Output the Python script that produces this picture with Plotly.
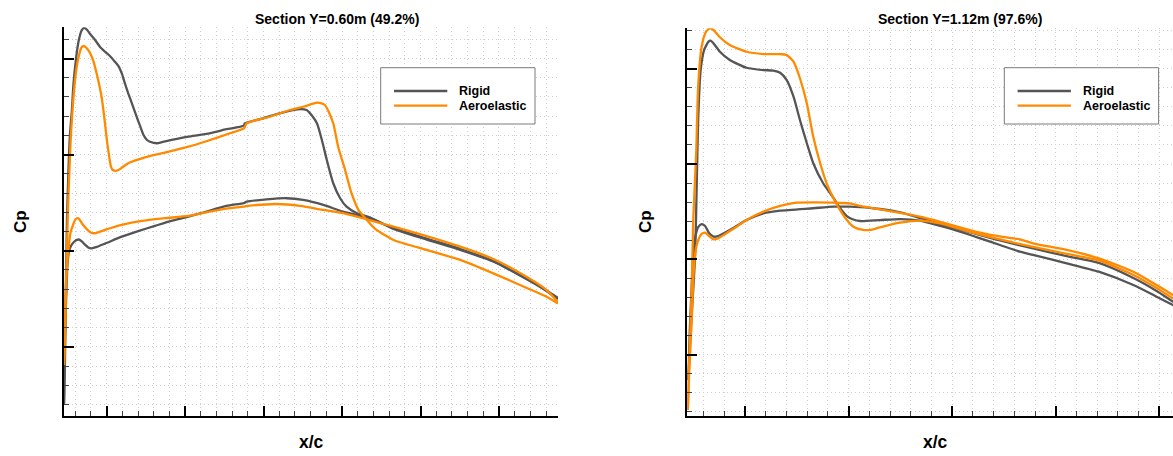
import plotly.graph_objects as go

W, H = 1173, 456

# ---- Section Y=0.60m : pressure coefficient along the chord ----
s1_rigid_up_x = [0.000, 0.002, 0.004, 0.006, 0.009, 0.012, 0.016, 0.019, 0.024, 0.030, 0.036, 0.041,
                 0.047, 0.053, 0.063, 0.073, 0.083, 0.093, 0.103, 0.110, 0.117, 0.123, 0.130, 0.138,
                 0.147, 0.154, 0.161, 0.168, 0.174, 0.188, 0.200, 0.218, 0.252, 0.285, 0.329, 0.364,
                 0.366, 0.403, 0.444, 0.478, 0.491, 0.501, 0.512, 0.522, 0.532, 0.545, 0.559, 0.572,
                 0.593, 0.619, 0.667, 0.734, 0.802, 0.869, 0.923, 0.964, 1.000]
s1_rigid_up_cp = [0.803, 0.465, 0.152, -0.160, -0.420, -0.602, -0.732, -0.862, -0.992, -1.096, -1.148, -1.159,
                  -1.148, -1.127, -1.096, -1.060, -1.035, -1.013, -0.983, -0.961, -0.923, -0.873, -0.819, -0.763,
                  -0.697, -0.649, -0.602, -0.576, -0.567, -0.559, -0.566, -0.576, -0.593, -0.606, -0.632, -0.651,
                  -0.662, -0.689, -0.720, -0.737, -0.732, -0.706, -0.663, -0.576, -0.472, -0.351, -0.273, -0.229,
                  -0.195, -0.174, -0.113, -0.058, -0.004, 0.056, 0.129, 0.189, 0.251]

s1_rigid_lo_x = [0.000, 0.002, 0.003, 0.005, 0.007, 0.010, 0.014, 0.020, 0.026, 0.031, 0.036, 0.043,
                 0.049, 0.055, 0.063, 0.083, 0.117, 0.150, 0.184, 0.217, 0.252, 0.285, 0.329, 0.364,
                 0.370, 0.410, 0.451, 0.484, 0.525, 0.565, 0.619, 0.667, 0.734, 0.802, 0.869, 0.923,
                 0.964, 1.000]
s1_rigid_lo_cp = [0.803, 0.569, 0.361, 0.204, 0.074, 0.007, -0.024, -0.045, -0.056, -0.058, -0.048, -0.030,
                  -0.017, -0.012, -0.017, -0.037, -0.073, -0.102, -0.129, -0.155, -0.177, -0.201, -0.233, -0.248,
                  -0.255, -0.267, -0.273, -0.264, -0.238, -0.203, -0.168, -0.118, -0.063, -0.009, 0.054, 0.126,
                  0.186, 0.246]

s1_aero_up_x = [0.000, 0.002, 0.004, 0.006, 0.008, 0.011, 0.014, 0.018, 0.022, 0.026, 0.031, 0.035,
                0.039, 0.045, 0.053, 0.060, 0.066, 0.071, 0.076, 0.081, 0.086, 0.091, 0.095, 0.099,
                0.107, 0.115, 0.130, 0.164, 0.204, 0.252, 0.285, 0.336, 0.364, 0.370, 0.417, 0.457,
                0.484, 0.512, 0.520, 0.528, 0.536, 0.545, 0.555, 0.569, 0.582, 0.596, 0.613, 0.630,
                0.667, 0.734, 0.802, 0.869, 0.937, 0.974, 1.000]
s1_aero_up_cp = [0.595, 0.413, 0.204, -0.004, -0.212, -0.420, -0.602, -0.758, -0.878, -0.961, -1.023, -1.055,
                 -1.065, -1.057, -1.027, -0.982, -0.923, -0.867, -0.801, -0.706, -0.593, -0.498, -0.438, -0.420,
                 -0.416, -0.428, -0.455, -0.486, -0.510, -0.541, -0.567, -0.611, -0.636, -0.663, -0.697, -0.732,
                 -0.749, -0.770, -0.768, -0.758, -0.722, -0.663, -0.541, -0.420, -0.299, -0.212, -0.160, -0.113,
                 -0.056, -0.004, 0.048, 0.118, 0.194, 0.236, 0.275]

s1_aero_lo_x = [0.000, 0.002, 0.003, 0.005, 0.009, 0.013, 0.019, 0.023, 0.028, 0.032, 0.038, 0.047,
                0.056, 0.065, 0.083, 0.117, 0.157, 0.204, 0.252, 0.285, 0.336, 0.364, 0.370, 0.431,
                0.478, 0.525, 0.565, 0.613, 0.667, 0.734, 0.802, 0.869, 0.937, 0.974, 1.000]
s1_aero_lo_cp = [0.595, 0.413, 0.257, 0.126, -0.004, -0.092, -0.139, -0.162, -0.169, -0.160, -0.136, -0.110,
                 -0.092, -0.092, -0.108, -0.134, -0.155, -0.169, -0.181, -0.198, -0.221, -0.229, -0.233, -0.243,
                 -0.233, -0.212, -0.195, -0.163, -0.125, -0.076, -0.021, 0.043, 0.137, 0.199, 0.267]

# ---- Section Y=1.12m ----
s2_rigid_up_x = [0.002, 0.007, 0.012, 0.016, 0.019, 0.022, 0.027, 0.034, 0.043, 0.047, 0.053, 0.066,
                 0.086, 0.120, 0.154, 0.174, 0.188, 0.201, 0.215, 0.228, 0.242, 0.255, 0.275, 0.296,
                 0.309, 0.323, 0.336, 0.350, 0.390, 0.431, 0.471, 0.512, 0.552, 0.593, 0.633, 0.673,
                 0.700, 0.768, 0.833, 0.903, 0.950, 0.983, 1.000]
s2_rigid_up_cp = [0.633, 0.371, 0.161, -0.031, -0.381, -0.731, -0.993, -1.098, -1.142, -1.147, -1.133, -1.089,
                  -1.046, -1.005, -0.993, -0.990, -0.979, -0.941, -0.853, -0.731, -0.609, -0.504, -0.399, -0.322,
                  -0.269, -0.227, -0.209, -0.201, -0.206, -0.211, -0.203, -0.175, -0.145, -0.110, -0.075, -0.040,
                  -0.023, 0.021, 0.065, 0.135, 0.196, 0.240, 0.261]

s2_rigid_lo_x = [0.002, 0.005, 0.009, 0.012, 0.017, 0.022, 0.029, 0.036, 0.044, 0.053, 0.062, 0.086,
                 0.120, 0.154, 0.188, 0.255, 0.296, 0.329, 0.390, 0.431, 0.471, 0.512, 0.552, 0.593,
                 0.633, 0.700, 0.768, 0.833, 0.903, 0.950, 0.983, 1.000]
s2_rigid_lo_cp = [0.633, 0.371, 0.135, -0.031, -0.127, -0.169, -0.185, -0.175, -0.138, -0.119, -0.122, -0.154,
                  -0.206, -0.241, -0.255, -0.268, -0.276, -0.276, -0.264, -0.246, -0.217, -0.185, -0.157, -0.127,
                  -0.099, -0.057, -0.017, 0.019, 0.098, 0.166, 0.222, 0.250]

s2_aero_up_x = [0.001, 0.004, 0.009, 0.012, 0.018, 0.022, 0.029, 0.038, 0.046, 0.053, 0.066, 0.086,
                0.120, 0.154, 0.188, 0.201, 0.215, 0.228, 0.242, 0.255, 0.269, 0.282, 0.296, 0.309,
                0.323, 0.336, 0.356, 0.370, 0.390, 0.431, 0.471, 0.512, 0.552, 0.593, 0.633, 0.700,
                0.768, 0.833, 0.903, 0.950, 0.983, 1.000]
s2_aero_up_cp = [0.790, 0.528, 0.144, -0.206, -0.556, -0.906, -1.115, -1.194, -1.212, -1.203, -1.165, -1.124,
                 -1.089, -1.077, -1.076, -1.072, -1.037, -0.950, -0.818, -0.643, -0.504, -0.399, -0.320, -0.259,
                 -0.206, -0.171, -0.154, -0.154, -0.168, -0.192, -0.203, -0.188, -0.159, -0.130, -0.104, -0.065,
                 -0.028, 0.006, 0.082, 0.151, 0.205, 0.229]

s2_aero_lo_x = [0.001, 0.004, 0.009, 0.012, 0.016, 0.022, 0.029, 0.036, 0.044, 0.053, 0.062, 0.073,
                0.100, 0.120, 0.154, 0.188, 0.221, 0.255, 0.296, 0.329, 0.350, 0.390, 0.431, 0.471,
                0.512, 0.552, 0.593, 0.633, 0.673, 0.700, 0.768, 0.833, 0.903, 0.950, 0.983, 1.000]
s2_aero_lo_cp = [0.790, 0.581, 0.318, 0.109, -0.031, -0.101, -0.133, -0.140, -0.122, -0.105, -0.109, -0.127,
                 -0.171, -0.206, -0.250, -0.280, -0.297, -0.299, -0.297, -0.293, -0.280, -0.262, -0.244, -0.224,
                 -0.197, -0.168, -0.140, -0.120, -0.105, -0.084, -0.049, -0.005, 0.065, 0.135, 0.187, 0.214]

titles = ["Section Y=0.60m (49.2%)", "Section Y=1.12m (97.6%)"]
series_names = ["Rigid", "Aeroelastic"]
colors = {"Rigid": "#555555", "Aeroelastic": "#FF8A00"}


def px(x):
    return x / W


def py(y):
    return 1 - y / H


fig = go.Figure()

panels = [
    ("x", "y", [(s1_rigid_up_x, s1_rigid_up_cp, "Rigid"), (s1_rigid_lo_x, s1_rigid_lo_cp, "Rigid"),
                (s1_aero_up_x, s1_aero_up_cp, "Aeroelastic"), (s1_aero_lo_x, s1_aero_lo_cp, "Aeroelastic")]),
    ("x2", "y2", [(s2_rigid_up_x, s2_rigid_up_cp, "Rigid"), (s2_rigid_lo_x, s2_rigid_lo_cp, "Rigid"),
                  (s2_aero_up_x, s2_aero_up_cp, "Aeroelastic"), (s2_aero_lo_x, s2_aero_lo_cp, "Aeroelastic")]),
]
for xa, ya, curves in panels:
    for xs, cps, name in curves:
        fig.add_trace(go.Scatter(
            x=xs, y=cps, mode="lines", name=name, showlegend=False,
            xaxis=xa, yaxis=ya,
            line=dict(color=colors[name], width=2.3, shape="spline", smoothing=0.6),
        ))

grid_col = "#cfcfcf"
grid_dash = "1px,3px"


def axis_style(domain, rng, tick0, dtick, anchor):
    return dict(
        domain=domain, range=rng, anchor=anchor,
        showline=True, linecolor="black", linewidth=2,
        zeroline=False, showticklabels=False,
        tickmode="linear", tick0=tick0, dtick=dtick,
        ticks="inside", ticklen=10, tickwidth=2, tickcolor="black",
        showgrid=True, gridcolor=grid_col, griddash=grid_dash, gridwidth=1,
        minor=dict(tick0=tick0, dtick=dtick / 5, ticks="inside", ticklen=5, tickwidth=1,
                   tickcolor="#444444", showgrid=True, gridcolor=grid_col,
                   griddash=grid_dash, gridwidth=1),
        fixedrange=True,
    )


fig.update_layout(
    width=W, height=H,
    margin=dict(l=0, r=0, t=0, b=0),
    paper_bgcolor="white", plot_bgcolor="white",
    showlegend=False,
    xaxis=axis_style([px(64), px(558)], [0, 1], 0.0864, 0.15883, "y"),
    yaxis=axis_style([py(415.5), py(27.3)], [0.8574, -1.1623], 0.0, 0.5, "x"),
    xaxis2=axis_style([px(687.3), 1.0], [0, 0.9832], 0.1168, 0.20972, "y2"),
    yaxis2=axis_style([py(416), py(28.3)], [0.8221, -1.2120], 0.0, 0.5, "x2"),
)

font_family = "Liberation Sans, Arial, sans-serif"
ann = []
shapes = []
for i, (tx, cpx, xcx, leg_x0) in enumerate([(336.5, 20, 311, 380.7), (960, 645, 935, 1004.3)]):
    ann.append(dict(x=px(tx), y=py(19), xref="paper", yref="paper", text="<b>%s</b>" % titles[i],
                    showarrow=False, xanchor="center", yanchor="middle",
                    font=dict(family=font_family, size=14, color="black")))
    ann.append(dict(x=px(cpx), y=py(222), xref="paper", yref="paper", text="<b>Cp</b>",
                    showarrow=False, xanchor="center", yanchor="middle", textangle=-90,
                    font=dict(family=font_family, size=17, color="black")))
    ann.append(dict(x=px(xcx), y=py(441.5), xref="paper", yref="paper", text="<b>x/c</b>",
                    showarrow=False, xanchor="center", yanchor="middle",
                    font=dict(family=font_family, size=17.5, color="black")))
    # legend frame, line samples and labels
    shapes.append(dict(type="rect", xref="paper", yref="paper",
                       x0=px(leg_x0), x1=px(leg_x0 + 154.3), y0=py(124), y1=py(67.7),
                       line=dict(color="#7a7a7a", width=1), fillcolor="white", layer="above"))
    for j, name in enumerate(series_names):
        yy = 91 + 14.7 * j
        shapes.append(dict(type="line", xref="paper", yref="paper",
                           x0=px(leg_x0 + 13.3), x1=px(leg_x0 + 66.6), y0=py(yy), y1=py(yy),
                           line=dict(color=colors[name], width=2.3), layer="above"))
        ann.append(dict(x=px(leg_x0 + 76.6), y=py(yy), xref="paper", yref="paper",
                        text="<b>%s</b>" % name, showarrow=False, xanchor="left", yanchor="middle",
                        font=dict(family=font_family, size=12.5, color="black")))

fig.update_layout(annotations=ann, shapes=shapes)
fig.write_html("out.html")
